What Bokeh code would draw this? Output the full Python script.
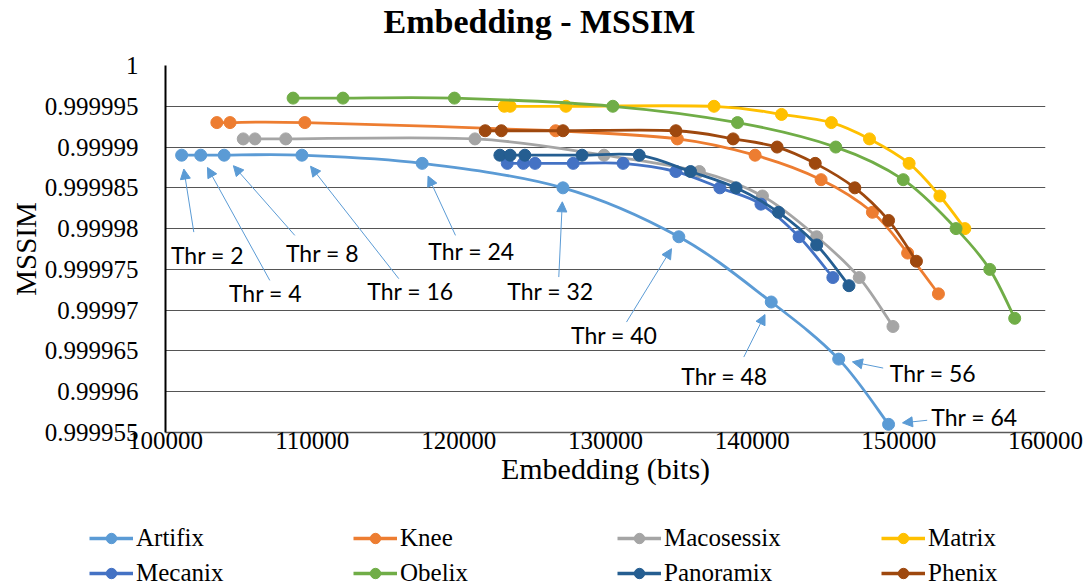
import numpy as np
from bokeh.plotting import figure
from bokeh.layouts import column
from bokeh.models import (Range1d, FixedTicker, NumeralTickFormatter, CustomJSTickFormatter,
                          Legend, LegendItem, Arrow, NormalHead, ColumnDataSource, Title)
from bokeh.core.properties import value
from bokeh.embed import file_html
from bokeh.resources import INLINE

# ---------------- data ----------------
SERIES = ["Artifix", "Knee", "Macosessix", "Matrix", "Mecanix", "Obelix", "Panoramix", "Phenix"]
COLORS = ["#5B9BD5", "#ED7D31", "#A5A5A5", "#FFC000", "#4472C4", "#70AD47", "#255E91", "#9E480E"]

artifix_x = [101100, 102400, 104000, 109300, 117500, 127100, 135000, 141300, 145900, 149300]
artifix_y = [0.999989, 0.999989, 0.999989, 0.999989, 0.999988, 0.999985, 0.999979, 0.999971, 0.999964, 0.999956]

knee_x = [103500, 104400, 109500, 126600, 134900, 140200, 144700, 148200, 150600, 152700]
knee_y = [0.999993, 0.999993, 0.999993, 0.999992, 0.999991, 0.999989, 0.999986, 0.999982, 0.999977, 0.999972]

macosessix_x = [105300, 106100, 108200, 121100, 129900, 136400, 140700, 144400, 147300, 149600]
macosessix_y = [0.999991, 0.999991, 0.999991, 0.999991, 0.999989, 0.999987, 0.999984, 0.999979, 0.999974, 0.999968]

matrix_x = [123100, 123500, 127300, 137400, 142000, 145400, 148000, 150700, 152800, 154500]
matrix_y = [0.999995, 0.999995, 0.999995, 0.999995, 0.999994, 0.999993, 0.999991, 0.999988, 0.999984, 0.99998]

mecanix_x = [123300, 124400, 125200, 127800, 131200, 134800, 137800, 140600, 143200, 145500]
mecanix_y = [0.999988, 0.999988, 0.999988, 0.999988, 0.999988, 0.999987, 0.999985, 0.999983, 0.999979, 0.999974]

obelix_x = [108700, 112100, 119700, 130500, 139000, 145700, 150300, 153900, 156200, 157900]
obelix_y = [0.999996, 0.999996, 0.999996, 0.999995, 0.999993, 0.99999, 0.999986, 0.99998, 0.999975, 0.999969]

panoramix_x = [122800, 123500, 124500, 128400, 132300, 135800, 138900, 141800, 144400, 146600]
panoramix_y = [0.999989, 0.999989, 0.999989, 0.999989, 0.999989, 0.999987, 0.999985, 0.999982, 0.999978, 0.999973]

phenix_x = [121800, 122900, 127100, 134800, 138700, 141700, 144300, 147000, 149300, 151200]
phenix_y = [0.999992, 0.999992, 0.999992, 0.999992, 0.999991, 0.99999, 0.999988, 0.999985, 0.999981, 0.999976]

SERIES_X = [artifix_x, knee_x, macosessix_x, matrix_x, mecanix_x, obelix_x, panoramix_x, phenix_x]
SERIES_Y = [artifix_y, knee_y, macosessix_y, matrix_y, mecanix_y, obelix_y, panoramix_y, phenix_y]

X_TICKS = [100000, 110000, 120000, 130000, 140000, 150000, 160000]
Y_TICKS = [0.999955, 0.99996, 0.999965, 0.99997, 0.999975, 0.99998, 0.999985, 0.99999, 0.999995, 1.0]

# threshold annotations on the Artifix series
THRESHOLDS = [2, 4, 8, 16, 24, 32, 40, 48, 56, 64]
THR_LABEL_X = [102864, 106818, 110704, 116704, 120863, 126249, 130593, 138113, 152329, 155157]
THR_LABEL_Y = [0.99997672, 0.99997206, 0.99997696, 0.9999723, 0.99997727, 0.99997237,
               0.99996691, 0.99996189, 0.99996225, 0.99995686]
THR_TAIL_X = [101930, 107111, 108816, 115906, 119772, 126815, 131431, 139429, 148933, 151933]
THR_TAIL_Y = [0.99997957, 0.99997365, 0.99997917, 0.99997386, 0.99997917, 0.99997406,
              0.99996854, 0.99996425, 0.99996290, 0.99995650]

# ---------------- main figure ----------------
X0, X1 = 100000, 160000
Y0, Y1 = 0.999955, 1.0
FW, FH = 880, 367
serif = "Liberation Serif"

p = figure(frame_width=FW, frame_height=FH,
           min_border_left=165, min_border_right=45, min_border_top=65, min_border_bottom=68,
           x_range=Range1d(X0, X1), y_range=Range1d(Y0, Y1),
           output_backend="svg", toolbar_location=None, background_fill_color="white",
           border_fill_color="white")
p.outline_line_color = None

# spacer panel between the frame and the title, pushing the title to the top
p.add_layout(Title(text=" ", text_font_size="20px", standoff=0), "above")
p.title.text = "Embedding - MSSIM"
p.title.align = "left"
p.title.offset = 218
p.title.vertical_align = "top"
p.title.standoff = 0
p.title.text_font = serif
p.title.text_font_size = "34px"
p.title.text_font_style = "bold"
p.title.text_color = "black"

p.xaxis.ticker = FixedTicker(ticks=X_TICKS)
p.xaxis.formatter = NumeralTickFormatter(format="0")
p.yaxis.ticker = FixedTicker(ticks=Y_TICKS)
p.yaxis.formatter = CustomJSTickFormatter(code="return String(+tick.toFixed(6));")
for ax in (p.xaxis[0], p.yaxis[0]):
    ax.major_tick_line_color = None
    ax.minor_tick_line_color = None
    ax.major_label_text_font = serif
    ax.major_label_text_font_size = "25px"
    ax.major_label_text_color = "black"
    ax.axis_label_text_font = serif
    ax.axis_label_text_font_style = "normal"
    ax.axis_label_text_color = "black"
p.xaxis.axis_label = "Embedding (bits)"
p.yaxis.axis_label = "MSSIM"
p.xaxis.axis_label_text_font_size = "30px"
p.yaxis.axis_label_text_font_size = "29px"
p.xaxis.major_label_standoff = -7
p.xaxis.axis_label_standoff = 0
p.yaxis.major_label_standoff = 21
p.yaxis.axis_label_standoff = 0
p.yaxis.axis_line_color = "black"
p.yaxis.axis_line_width = 2
p.xaxis.axis_line_color = "#595959"
p.xaxis.axis_line_width = 1.5

p.xgrid.grid_line_color = None
p.ygrid.grid_line_color = "#555555"
p.ygrid.grid_line_width = 1.2


def bezier_parts(xs, ys):
    x = np.asarray(xs, dtype=float)
    y = np.asarray(ys, dtype=float)
    n = len(x)
    xp = np.concatenate([[x[0]], x, [x[-1]]])
    yp = np.concatenate([[y[0]], y, [y[-1]]])
    cx0 = x[:-1] + (xp[2:n + 1] - xp[0:n - 1]) / 6.0
    cy0 = y[:-1] + (yp[2:n + 1] - yp[0:n - 1]) / 6.0
    cx1 = x[1:] - (xp[3:n + 2] - xp[1:n]) / 6.0
    cy1 = y[1:] - (yp[3:n + 2] - yp[1:n]) / 6.0
    return dict(x0=x[:-1], y0=y[:-1], x1=x[1:], y1=y[1:], cx0=cx0, cy0=cy0, cx1=cx1, cy1=cy1)


for name, col, xs, ys in zip(SERIES, COLORS, SERIES_X, SERIES_Y):
    src = ColumnDataSource(bezier_parts(xs, ys))
    p.bezier(x0="x0", y0="y0", x1="x1", y1="y1", cx0="cx0", cy0="cy0", cx1="cx1", cy1="cy1",
             source=src, line_color=col, line_width=2.8)
    p.scatter(xs, ys, size=12, marker="circle", fill_color=col, line_color=col)

# arrows + labels
dxpp = (X1 - X0) / FW
dypp = (Y1 - Y0) / FH
gap = 14.0
tip_x, tip_y = [], []
for px, py, tx, ty in zip(artifix_x, artifix_y, THR_TAIL_X, THR_TAIL_Y):
    vx = (tx - px) / dxpp
    vy = (ty - py) / dypp
    L = (vx * vx + vy * vy) ** 0.5
    tip_x.append(px + vx / L * gap * dxpp)
    tip_y.append(py + vy / L * gap * dypp)

asrc = ColumnDataSource(dict(xs=THR_TAIL_X, ys=THR_TAIL_Y, xe=tip_x, ye=tip_y))
p.add_layout(Arrow(end=NormalHead(size=10, fill_color="#5B9BD5", line_color="#5B9BD5", line_width=1),
                   x_start="xs", y_start="ys", x_end="xe", y_end="ye", source=asrc,
                   line_color="#5B9BD5", line_width=1))
p.text(x=THR_LABEL_X, y=THR_LABEL_Y, text=["Thr = %d" % t for t in THRESHOLDS],
       text_font=value("Lato"), text_font_size="23px", text_align="center",
       text_baseline="middle", text_color="black")

# ---------------- legend strip ----------------
# the series are drawn here again, outside this strip's ranges, only to feed the legend glyphs
lf = figure(width=1090, height=87, min_border_left=0, min_border_right=0, min_border_top=0,
            min_border_bottom=0, x_range=Range1d(0, 1), y_range=Range1d(0, 1),
            x_axis_location=None, y_axis_location=None,
            output_backend="svg", toolbar_location=None, border_fill_color="white",
            background_fill_color="white")
lf.grid.grid_line_color = None
lf.outline_line_color = None

aligned = True
if "frame_align" in lf.properties():
    lf.frame_align = False
    p.frame_align = False
    aligned = False

items = []
for name, col, xs, ys in zip(SERIES, COLORS, SERIES_X, SERIES_Y):
    ln = lf.line(xs, ys, line_color=col, line_width=3.5)
    sc = lf.scatter(xs, ys, size=12, marker="circle", fill_color=col, line_color=col)
    items.append(LegendItem(label=name, renderers=[ln, sc]))

leg = Legend(items=items, orientation="horizontal", ncols=4,
             location=((0, 0) if aligned else (89, 0)),
             glyph_width=44, glyph_height=26, label_height=26,
             label_width=(180 if aligned else 210),
             label_standoff=3, spacing=7, padding=0, margin=0,
             label_text_font=serif, label_text_font_size="25px", label_text_color="black",
             border_line_color=None, background_fill_alpha=0)
lf.add_layout(leg, "center")

open("out.html", "w").write(file_html(column(p, lf, spacing=0), INLINE))
